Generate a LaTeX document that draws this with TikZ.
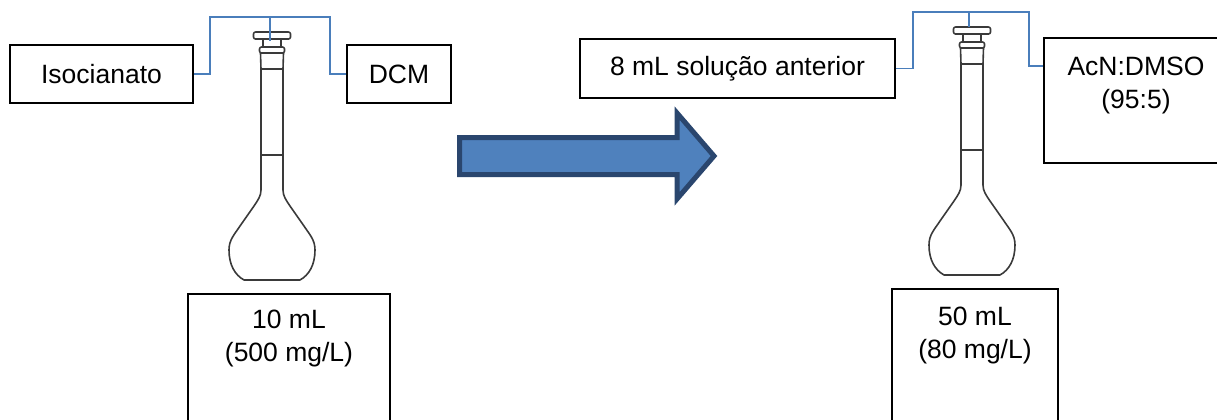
\documentclass[tikz,border=0pt]{standalone}
\usepackage{fontspec}
\setmainfont{Liberation Sans}
\usetikzlibrary{positioning}
\definecolor{feedstroke}{HTML}{4A7EBB}
\definecolor{arrowfill}{HTML}{4F81BD}
\definecolor{arrowstroke}{HTML}{2A466E}
\definecolor{glassstroke}{HTML}{3A3A3A}
\tikzset{
  labelbox/.style={
    rectangle,
    draw=black,
    line width=0.9pt,
    inner sep=0pt,
    align=center,
    font=\fontsize{13.25}{16.5}\selectfont
  },
  boxtext/.style={
    inner sep=0pt,
    align=center,
    font=\fontsize{13.25}{16.5}\selectfont
  },
  feed/.style={
    draw=feedstroke,
    line width=0.8pt
  },
  glass/.style={
    draw=glassstroke,
    line width=0.8pt,
    line join=round
  },
  flask/.pic={
    % stopper
    \draw[glass,rounded corners=1pt] (-18.5,0) rectangle (18.5,7);
    \draw[glass] (-9,7) -- (-9,15) (9,7) -- (9,15);
    \draw[glass,rounded corners=1pt] (-12.5,15) rectangle (12.5,21);
    % ground joint and neck
    \draw[glass] (-11.5,21) -- (-11,37) -- (-11,158) (11.5,21) -- (11,37) -- (11,158);
    \draw[glass] (-11,37) -- (11,37) (-11,123) -- (11,123);
    % bulb
    \draw[glass] (-11,158) .. controls (-11,164) and (-14,168) .. (-18,174)
      -- (-32,194) .. controls (-38,203) and (-43,208) .. (-43,218)
      .. controls (-43,233) and (-37,243) .. (-28,248) -- (28,248)
      .. controls (37,243) and (43,233) .. (43,218)
      .. controls (43,208) and (38,203) .. (32,194)
      -- (18,174) .. controls (14,168) and (11,164) .. (11,158);
  }
}

\begin{document}
\begin{tikzpicture}[x=0.5pt,y=-0.5pt]
  \useasboundingbox (0,0) rectangle (1217,419);

  % first dilution
  \node[labelbox,minimum width=91.5pt,minimum height=29pt] (iso) at (101.5,74) {Isocianato};
  \node[labelbox,minimum width=52pt,minimum height=29pt] (dcm) at (399,74) {DCM};
  \node[labelbox,minimum width=101pt,minimum height=73pt] (vol1) at (289,367) {};
  \node[boxtext,below=8pt of vol1.north] (vol1txt) {10 mL\\(500 mg/L)};
  \pic at (272,32) {flask};

  % second dilution
  \node[labelbox,minimum width=157.5pt,minimum height=29.5pt] (prev) at (737.5,68.5) {8 mL solução anterior};
  \node[labelbox,minimum width=92pt,minimum height=62.5pt] (solv) at (1136,100.5) {};
  \node[boxtext,below=9.5pt of solv.north] (solvtxt) {AcN:DMSO\\(95:5)};
  \node[labelbox,minimum width=83pt,minimum height=75.5pt] (vol2) at (975,364.5) {};
  \node[boxtext,below=9pt of vol2.north] (vol2txt) {50 mL\\(80 mg/L)};
  \pic at (972,27) {flask};

  % feed lines into the stoppers
  \coordinate (top1) at (270,17);
  \draw[feed] (iso.east) -- ++(16,0) |- (top1) -- ++(0,24);
  \draw[feed] (dcm.west) -- ++(-16,0) |- (top1);

  \coordinate (top2) at (969,12);
  \draw[feed] (prev.east) -- ++(17,0) |- (top2) -- ++(0,15);
  \draw[feed] ([yshift=-14.5pt]solv.north west) -- ++(-14,0) |- (top2);

  % block arrow between the two steps
  \draw[fill=arrowfill,draw=arrowstroke,line width=2.5pt,line join=miter]
    (459.5,137.5) -- (677,137.5) -- (677,113) -- (714,156)
    -- (677,199) -- (677,174.5) -- (459.5,174.5) -- cycle;
\end{tikzpicture}
\end{document}
